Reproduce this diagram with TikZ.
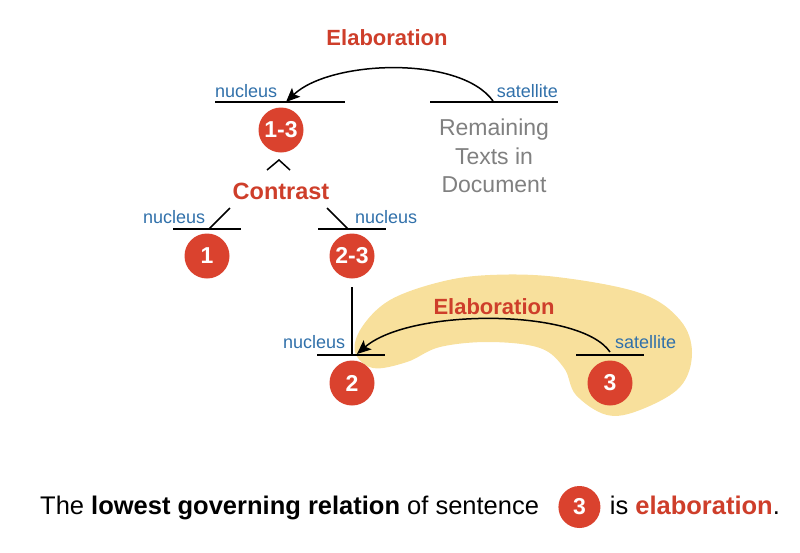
\documentclass[tikz,border=0pt]{standalone}
\usepackage{fontspec}
\setmainfont{Liberation Sans}
\usetikzlibrary{arrows.meta,positioning}
\definecolor{relred}{RGB}{206,62,42}
\definecolor{numred}{RGB}{218,66,46}
\definecolor{roleblue}{RGB}{48,112,170}
\definecolor{restgray}{RGB}{128,128,128}
\definecolor{spanyellow}{RGB}{248,224,156}
\tikzset{
  num/.style={circle,fill=numred,text=white,inner sep=0pt,minimum size=45pt,
    font=\fontsize{23}{23}\selectfont\bfseries},
  rel/.style={text=relred,inner sep=0pt,font=\fontsize{22}{22}\selectfont\bfseries},
  role/.style={text=roleblue,inner sep=0pt,font=\fontsize{18}{18}\selectfont},
  edu/.style={line width=1.5pt},
  link/.style={line width=1.5pt,-{Stealth[length=14pt,width=12pt,inset=3pt]}},
  words/.style={inner sep=0pt,text height=19pt,text depth=5pt,
    font=\fontsize{25.5}{25.5}\selectfont}
}
\begin{document}
\begin{tikzpicture}[x=1pt,y=-1pt]
  \useasboundingbox (0,0) rectangle (800,552);
  % span of the lowest relation
  \fill[spanyellow] plot[smooth cycle,tension=0.6] coordinates {
    (355,352) (362,327) (390,300) (440,282) (490,275) (557,277) (640,293)
    (680,320) (692,353) (680,387) (640,410) (607,415) (576,395) (564,368)
    (540,348) (490,342) (440,347) (407,362) (373,368)};
  \draw
    (281,130) node[num] (13){1-3}
    (207,256) node[num] (1){1}
    (352,256) node[num] (23){2-3}
    (352,383) node[num] (2){2}
    (610,383) node[num] (3){3};
  \draw
    (387,38) node[rel] (elab1){Elaboration}
    (281,191) node[rel,font=\fontsize{23.5}{23.5}\selectfont\bfseries] (contrast){Contrast}
    (494,307) node[rel] (elab2){Elaboration};
  \node[text=restgray,inner sep=0pt,align=center,
    font=\fontsize{23}{28.5}\selectfont] (rest) at (494,156) {Remaining\\Texts in\\Document};
  \draw
    (215,97) node[role,anchor=base west] (nuc13){nucleus}
    (558,97) node[role,anchor=base east] (satrest){satellite}
    (143,223) node[role,anchor=base west] (nuc1){nucleus}
    (355,223) node[role,anchor=base west] (nuc23){nucleus}
    (283,348) node[role,anchor=base west] (nuc2){nucleus}
    (615,348) node[role,anchor=base west] (sat3){satellite};
  % bars over the units
  \begin{scope}[edu]
    \draw (215,102) -- (345,102);
    \draw (430,102) -- (558,102);
    \draw (173,229) -- (241,229);
    \draw (318,229) -- (386,229);
    \draw (317,355) -- (385,355);
    \draw (576,355) -- (644,355);
  \end{scope}
  \coordinate (t13) at (286,102);
  \coordinate (trest) at (493,101);
  \coordinate (cl) at (267,170);
  \coordinate (ca) at (279,160);
  \coordinate (cr) at (290,170);
  \coordinate (dl) at (230,208);
  \coordinate (t1) at (209,229);
  \coordinate (dr) at (327,208);
  \coordinate (t23) at (348,229);
  \coordinate (b23) at (352,287);
  \coordinate (t2) at (352,355);
  \coordinate (a2) at (357,354);
  \coordinate (t3) at (610,352);
  \begin{scope}[edu]
    \draw (cl) -- (ca) -- (cr);
    \draw (dl) -- (t1);
    \draw (dr) -- (t23);
    \draw (b23) -- (t2);
  \end{scope}
  \draw[link] (trest) .. controls (460,55) and (330,60) .. (t13);
  \draw[link] (t3) .. controls (580,308) and (410,308) .. (a2);
  % sentence
  \node[words,anchor=base west] (sent) at (40,514)
    {The \textbf{lowest governing relation} of sentence};
  \node[num,minimum size=42pt,right=19pt of sent] (s3) {3};
  \node[words,right=9pt of s3] (tail) {is \textcolor{relred}{\textbf{elaboration}}.};
\end{tikzpicture}
\end{document}
